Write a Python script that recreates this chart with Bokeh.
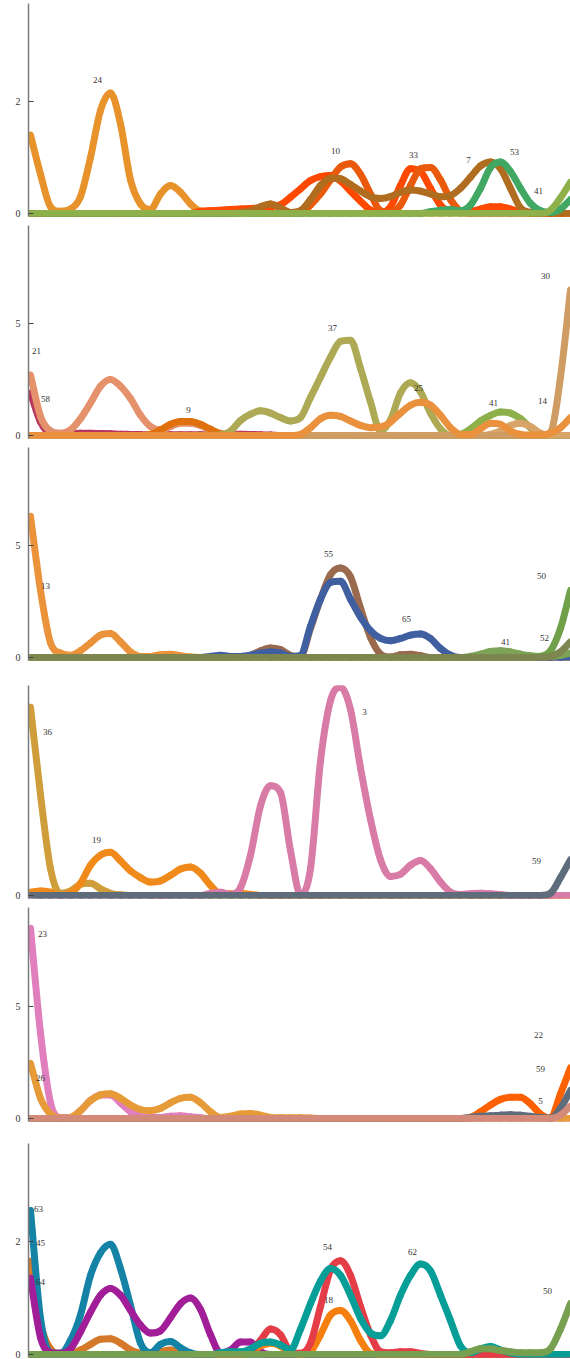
import math
from bokeh.plotting import figure
from bokeh.layouts import column
from bokeh.models import Range1d, FixedTicker, ColumnDataSource
from bokeh.core.properties import value
from bokeh.embed import file_html
from bokeh.resources import INLINE

# 55 evenly spaced sample positions shared by every series
positions = list(range(55))
Z11 = [0] * 11

# ---- panel 1 ----
p1_24 = [1.40, 0.70, 0.12, 0.04, 0.08, 0.30, 1.00, 1.84, 2.15, 1.60, 0.60,
         0.17, 0.07, 0.35, 0.50, 0.38, 0.17, 0.04, 0.02, 0.02, 0.02, 0.02] + Z11 * 3
p1_33 = Z11 + [0, 0, 0, 0, 0, 0, 0.04, 0.05, 0.06, 0.07, 0.08,
               0.09, 0.10, 0.12, 0.16, 0.29, 0.44, 0.59, 0.66, 0.68, 0.58, 0.40,
               0.22, 0.06, 0.02, 0.12, 0.50, 0.80, 0.75, 0.45, 0.15, 0.03, 0.02,
               0.03, 0.08, 0.12, 0.12, 0.08, 0.03, 0, 0, 0, 0, 0]
p1_10 = Z11 * 2 + [0, 0, 0, 0, 0, 0, 0.15, 0.35, 0.60, 0.83, 0.89,
                   0.70, 0.35, 0.05, 0.02, 0.15, 0.50, 0.80, 0.82, 0.60, 0.25, 0.04] + Z11
p1_7 = Z11 + [0, 0, 0, 0, 0, 0, 0, 0, 0, 0, 0.02,
              0.05, 0.12, 0.17, 0.10, 0.02, 0.05, 0.25, 0.50, 0.63, 0.62, 0.52,
              0.40, 0.30, 0.27, 0.30, 0.38, 0.42, 0.40, 0.35, 0.30, 0.32, 0.45,
              0.65, 0.85, 0.92, 0.80, 0.45, 0.10, 0.02, 0, 0, 0, 0]
p1_53 = Z11 * 3 + [0, 0, 0, 0, 0, 0, 0, 0.03, 0.06, 0.07, 0.05,
                   0.15, 0.45, 0.82, 0.92, 0.75, 0.45, 0.18, 0.05, 0.02, 0.08, 0.25]
p1_41 = Z11 * 4 + [0, 0, 0, 0, 0, 0, 0, 0, 0.06, 0.28, 0.56]

# ---- panel 2 ----
p2_58 = [1.90, 0.60, 0.10, 0.06, 0.08, 0.10, 0.10, 0.09, 0.08, 0.06, 0.05,
         0.04, 0.03, 0.03, 0.03, 0.03, 0.03, 0.03, 0.03, 0.05, 0.06, 0.06,
         0.05, 0.03, 0.02, 0, 0, 0, 0, 0, 0, 0, 0] + Z11 * 2
p2_21 = [2.70, 0.85, 0.20, 0.10, 0.25, 0.75, 1.45, 2.20, 2.50, 2.20, 1.65,
         0.90, 0.40, 0.25, 0.40, 0.55, 0.55, 0.45, 0.25, 0.08, 0.02, 0] + Z11 * 3
p2_9 = Z11 + [0, 0.05, 0.25, 0.50, 0.62, 0.62, 0.50, 0.28, 0.08, 0, 0] + Z11 * 3
p2_37 = Z11 + [0, 0, 0, 0, 0, 0, 0, 0, 0.02, 0.20, 0.67,
               0.95, 1.10, 1.00, 0.80, 0.65, 0.80, 1.70, 2.60, 3.50, 4.20, 4.25,
               3.00, 1.50, 0.20, 0.70, 1.90, 2.35, 1.95, 1.00, 0.30, 0, 0] + Z11
p2_41 = Z11 * 3 + [0, 0, 0, 0, 0, 0, 0, 0, 0, 0, 0.05,
                   0.30, 0.65, 0.90, 1.05, 1.00, 0.75, 0.35, 0.05, 0, 0, 0]
p2_14 = Z11 * 4 + [0, 0, 0.05, 0.20, 0.45, 0.55, 0.40, 0.10, 0, 0, 0]
p2_30 = Z11 * 4 + [0, 0, 0, 0, 0, 0, 0, 0, 0.15, 2.60, 6.50]
p2_25 = Z11 * 2 + [0, 0, 0, 0, 0, 0.05, 0.35, 0.75, 0.90, 0.85, 0.65,
                   0.45, 0.35, 0.38, 0.60, 1.00, 1.35, 1.48, 1.35, 0.90, 0.35, 0.05,
                   0.05, 0.30, 0.55, 0.50, 0.20, 0.05, 0.02, 0.02, 0.10, 0.35, 0.80]

# ---- panel 3 ----
p3_13 = [6.30, 3.00, 0.65, 0.20, 0.10, 0.30, 0.65, 1.00, 1.07, 0.70, 0.25,
         0.05, 0.05, 0.12, 0.15, 0.08, 0.02, 0, 0, 0, 0, 0] + Z11 * 3
p3_55 = Z11 + [0, 0, 0, 0, 0, 0, 0, 0, 0, 0, 0.02,
               0.10, 0.30, 0.42, 0.35, 0.10, 0.05, 1.30, 2.60, 3.70, 4.00, 3.60,
               2.20, 0.90, 0.15, 0.02, 0.12, 0.15, 0.08, 0, 0, 0, 0] + Z11
p3_65 = Z11 + [0, 0, 0, 0, 0, 0, 0, 0.05, 0.10, 0.05, 0.05,
               0.10, 0.20, 0.25, 0.20, 0.05, 0.10, 1.40, 2.60, 3.35, 3.40, 2.60,
               1.80, 1.20, 0.85, 0.75, 0.85, 1.00, 1.05, 0.85, 0.40, 0.10, 0] + Z11
p3_41 = Z11 * 4 + [0.05, 0.15, 0.27, 0.30, 0.25, 0.15, 0.08, 0.05, 0.05, 0.10, 0.20]
p3_50 = Z11 * 4 + [0, 0, 0, 0, 0, 0, 0, 0.05, 0.30, 1.30, 3.00]
p3_52 = Z11 * 4 + [0, 0, 0, 0, 0, 0, 0, 0, 0.05, 0.25, 0.70]

# ---- panel 4 ----
p4_36 = [8.40, 4.50, 1.20, 0.10, 0.20, 0.50, 0.55, 0.30, 0.10, 0.03, 0] + Z11 * 4
p4_19 = [0.15, 0.20, 0.15, 0, 0.10, 0.55, 1.35, 1.80, 1.93, 1.55, 1.10,
         0.80, 0.60, 0.65, 0.90, 1.18, 1.27, 1.00, 0.45, 0.08, 0.08, 0.10,
         0.05, 0, 0, 0, 0, 0, 0, 0, 0, 0, 0] + Z11 * 2
p4_3 = Z11 + [0, 0, 0, 0, 0, 0, 0, 0.10, 0.15, 0.05, 0.35,
              1.80, 4.00, 4.90, 4.60, 2.00, 0.05, 1.20, 6.00, 8.70, 9.30, 8.30,
              5.70, 3.40, 1.60, 0.85, 0.95, 1.35, 1.56, 1.20, 0.60, 0.15, 0.05,
              0.08, 0.10, 0.08, 0.04, 0, 0, 0, 0, 0, 0, 0]
p4_59 = Z11 * 4 + [0, 0, 0, 0, 0, 0, 0, 0, 0.10, 0.80, 1.60]

# ---- panel 5 ----
p5_23 = [8.45, 3.80, 0.70, 0.05, 0.05, 0.35, 0.80, 1.05, 1.05, 0.70, 0.30,
         0.10, 0.05, 0.05, 0.10, 0.12, 0.08, 0.03, 0, 0, 0, 0] + Z11 * 3
p5_26 = [2.45, 0.90, 0.20, 0.02, 0.05, 0.35, 0.80, 1.05, 1.10, 0.90, 0.60,
         0.40, 0.35, 0.45, 0.70, 0.90, 0.95, 0.70, 0.30, 0.05, 0.10, 0.20,
         0.22, 0.15, 0.05, 0.03, 0.03, 0.03, 0.02, 0, 0, 0, 0] + Z11 * 2
p5_22 = Z11 * 4 + [0.05, 0.30, 0.60, 0.85, 0.95, 0.95, 0.65, 0.20, 0.02, 1.10, 2.25]
p5_59 = Z11 * 4 + [0.05, 0.10, 0.12, 0.15, 0.17, 0.15, 0.10, 0.05, 0.02, 0.45, 1.25]
p5_5 = Z11 * 4 + [0, 0, 0, 0, 0, 0, 0, 0, 0, 0.15, 0.55]

# ---- panel 6 ----
p6_45 = [1.65, 0.55, 0.10, 0.02, 0.02, 0.08, 0.18, 0.27, 0.28, 0.20, 0.08,
         0.02, 0, 0.05, 0.08, 0.03, 0, 0, 0, 0, 0, 0] + Z11 * 3
p6_63 = [2.55, 0.64, 0.03, 0.02, 0.25, 0.70, 1.40, 1.80, 1.95, 1.52, 0.87,
         0.20, 0.03, 0.18, 0.23, 0.12, 0.03, 0, 0, 0, 0, 0] + Z11 * 3
p6_64 = [1.35, 0.30, 0.03, 0.02, 0.10, 0.40, 0.75, 1.05, 1.17, 1.05, 0.78,
         0.52, 0.38, 0.42, 0.65, 0.90, 1.00, 0.80, 0.35, 0.03, 0.08, 0.22,
         0.22, 0.05, 0, 0, 0, 0, 0, 0, 0, 0, 0] + Z11 * 2
p6_18 = Z11 * 2 + [0.05, 0.15, 0.20, 0.15, 0.02, 0, 0.05, 0.35, 0.70, 0.78, 0.60,
                   0.25, 0.02, 0, 0, 0, 0, 0, 0, 0, 0, 0] + Z11
p6_54 = Z11 * 2 + [0.05, 0.25, 0.45, 0.35, 0.05, 0.02, 0.20, 0.85, 1.50, 1.66, 1.40,
                   0.85, 0.35, 0.05, 0.03, 0.05, 0.05, 0.02, 0, 0, 0, 0] + Z11
p6_62 = Z11 + [0, 0, 0, 0, 0, 0, 0, 0, 0.03, 0.05, 0.05,
               0.10, 0.20, 0.22, 0.17, 0.08, 0.45, 0.90, 1.30, 1.52, 1.40, 1.05,
               0.64, 0.38, 0.33, 0.60, 1.05, 1.40, 1.60, 1.48, 1.05, 0.60, 0.15,
               0.03, 0.10, 0.14, 0.08, 0.03, 0, 0, 0, 0, 0, 0]
p6_50 = Z11 * 4 + [0.05, 0.10, 0.10, 0.07, 0.05, 0.03, 0.03, 0.03, 0.10, 0.45, 0.90]

# panel layout: series in drawing order, labels as (text, position, value)
panels = [
    dict(height=222, top=3, bottom=6, y=(-3 / 56, 210 / 56), ticks=[0, 2],
         series=[(p1_24, "#E8922C"), (p1_33, "#FF4800"), (p1_10, "#EA5A0C"),
                 (p1_7, "#B06D20"), (p1_53, "#41A864"), (p1_41, "#8DB04B")],
         labels=[("24", 6.7, 2.39), ("10", 30.5, 1.11), ("33", 38.3, 1.05),
                 ("7", 43.8, 0.96), ("53", 48.4, 1.09), ("41", 50.8, 0.41)]),
    dict(height=222, top=3, bottom=6, y=(-3 / 22.4, 210 / 22.4), ticks=[0, 5],
         series=[(p2_58, "#B8365E"), (p2_21, "#E5916B"), (p2_9, "#E0700E"),
                 (p2_37, "#ADA955"), (p2_41, "#8DB04B"), (p2_14, "#D9A46A"),
                 (p2_30, "#CF9C63"), (p2_25, "#E9913D")],
         labels=[("21", 0.6, 3.79), ("58", 1.5, 1.65), ("9", 15.8, 1.12),
                 ("37", 30.2, 4.82), ("25", 38.8, 2.14), ("41", 46.3, 1.47),
                 ("14", 51.2, 1.56), ("30", 51.5, 7.14)]),
    dict(height=222, top=3, bottom=6, y=(-3 / 22.4, 210 / 22.4), ticks=[0, 5],
         series=[(p3_13, "#EB933B"), (p3_55, "#9A6A4E"), (p3_65, "#3F5FA0"),
                 (p3_41, "#7DA456"), (p3_50, "#70A04A"), (p3_52, "#7E864F")],
         labels=[("13", 1.5, 3.17), ("55", 29.8, 4.64), ("65", 37.6, 1.70),
                 ("41", 47.5, 0.67), ("52", 51.4, 0.89), ("50", 51.1, 3.62)]),
    dict(height=238, top=19, bottom=6, y=(-3 / 22.4, 210 / 22.4), ticks=[0],
         series=[(p4_36, "#CF9E3A"), (p4_19, "#F08A1A"), (p4_3, "#D97BA7"),
                 (p4_59, "#5E6C7B")],
         labels=[("36", 1.7, 7.28), ("19", 6.6, 2.5), ("3", 33.4, 8.21),
                 ("59", 50.6, 1.56)]),
    dict(height=223, top=3, bottom=6, y=(-3 / 22.5, 211 / 22.5), ticks=[0, 5],
         series=[(p5_23, "#E17FBE"), (p5_26, "#E79A38"), (p5_22, "#FF6000"),
                 (p5_59, "#5E6C7B"), (p5_5, "#D38A78")],
         labels=[("23", 1.2, 8.22), ("26", 1.0, 1.78), ("22", 50.8, 3.73),
                 ("59", 51.0, 2.22), ("5", 51.0, 0.76)]),
    dict(height=232, top=16, bottom=2, y=(-3 / 56.5, 211 / 56.5), ticks=[0, 2],
         series=[(p6_45, "#D4782A"), (p6_63, "#1483A6"), (p6_64, "#A11E98"),
                 (p6_18, "#F5800F"), (p6_54, "#E43D47"), (p6_62, "#069E97"),
                 (p6_50, "#76A04F")],
         labels=[("63", 0.8, 2.58), ("45", 1.0, 1.98), ("64", 1.0, 1.29),
                 ("54", 29.7, 1.91), ("18", 29.8, 0.96), ("62", 38.2, 1.82),
                 ("50", 51.7, 1.12)]),
]


def smooth_segments(xs, ys):
    """Cubic Bezier pieces of a monotone (Fritsch-Carlson) curve through the samples."""
    n = len(ys)
    d = [(ys[i + 1] - ys[i]) / (xs[i + 1] - xs[i]) for i in range(n - 1)]
    m = [d[0]] + [0.0] * (n - 2) + [d[-1]]
    for i in range(1, n - 1):
        m[i] = 0.0 if d[i - 1] * d[i] <= 0 else (d[i - 1] + d[i]) / 2
    for i in range(n - 1):
        if d[i] == 0:
            m[i] = m[i + 1] = 0.0
            continue
        a, b = m[i] / d[i], m[i + 1] / d[i]
        s = a * a + b * b
        if s > 9:
            t = 3 / math.sqrt(s)
            m[i], m[i + 1] = t * a * d[i], t * b * d[i]
    seg = dict(x0=[], y0=[], x1=[], y1=[], cx0=[], cy0=[], cx1=[], cy1=[])
    for i in range(n - 1):
        h = xs[i + 1] - xs[i]
        seg["x0"].append(xs[i]); seg["y0"].append(ys[i])
        seg["x1"].append(xs[i + 1]); seg["y1"].append(ys[i + 1])
        seg["cx0"].append(xs[i] + h / 3); seg["cy0"].append(ys[i] + m[i] * h / 3)
        seg["cx1"].append(xs[i + 1] - h / 3); seg["cy1"].append(ys[i + 1] - m[i + 1] * h / 3)
    return ColumnDataSource(seg)


figs = []
for spec in panels:
    p = figure(width=570, height=spec["height"], title=None,
               x_range=Range1d(-0.2, 54.0), y_range=Range1d(*spec["y"]),
               x_axis_type=None, output_backend="svg", toolbar_location=None,
               min_border_left=28, min_border_right=0,
               min_border_top=spec["top"], min_border_bottom=spec["bottom"])
    p.outline_line_color = None
    p.ygrid.visible = False
    p.background_fill_color = "white"
    p.border_fill_color = "white"

    ax = p.yaxis[0]
    ax.ticker = FixedTicker(ticks=spec["ticks"])
    ax.axis_line_color = "#7a7a7a"
    ax.axis_line_width = 1.5
    ax.major_tick_in = 5
    ax.major_tick_out = 0
    ax.major_tick_line_color = "#444444"
    ax.minor_tick_line_color = None
    ax.major_label_standoff = 8
    ax.major_label_text_font = "Liberation Serif"
    ax.major_label_text_font_size = "10px"
    ax.major_label_text_color = "#333333"

    for vals, col in spec["series"]:
        assert len(vals) == len(positions)
        p.bezier(x0="x0", y0="y0", x1="x1", y1="y1", cx0="cx0", cy0="cy0",
                 cx1="cx1", cy1="cy1", source=smooth_segments(positions, vals),
                 line_color=col, line_width=7, line_cap="round")

    src = ColumnDataSource(dict(
        x=[lab[1] for lab in spec["labels"]],
        y=[lab[2] for lab in spec["labels"]],
        t=[lab[0] for lab in spec["labels"]]))
    p.text(x="x", y="y", text="t", source=src,
           text_font=value("Liberation Serif"), text_font_size=value("9px"),
           text_color="#333333", text_align="center", text_baseline="middle")
    figs.append(p)

layout = column(*figs, spacing=0)
open("out.html", "w").write(file_html(layout, INLINE))
